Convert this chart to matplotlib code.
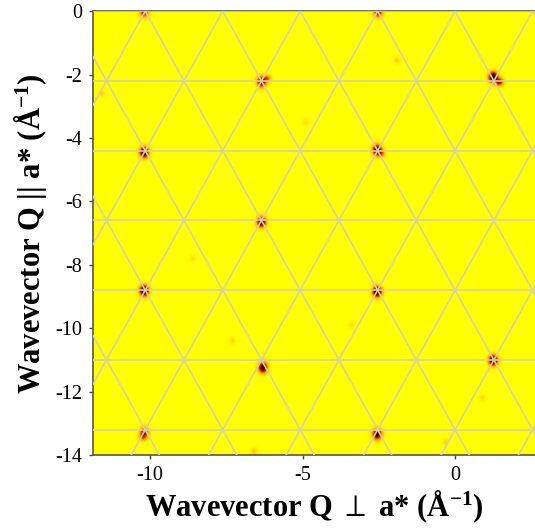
import matplotlib
matplotlib.use("Agg")
import matplotlib.pyplot as plt
import numpy as np
from matplotlib.colors import LinearSegmentedColormap

# Bragg peak positions (Å^-1) and strengths
PEAK_X = [-10.2, -2.52, -6.35, 1.26, -10.2, -2.55, -6.35, -10.2, -2.55, -6.3, 1.26, -10.2, -2.55]
PEAK_Y = [-0.02, -0.02, -2.22, -2.08, -4.45, -4.38, -6.65, -8.82, -8.85, -11.25, -11.02, -13.3, -13.35]
PEAK_AMP = [0.6, 0.65, 0.85, 1.1, 1.05, 1.0, 0.95, 1.15, 1.1, 0.95, 1.05, 0.6, 0.95]

# secondary orange lobes next to some peaks
LOBE_X = [-6.15, 1.45, -2.4, 1.5, -10.25]
LOBE_Y = [-2.12, -2.25, -4.5, -2.2, -13.45]
LOBE_AMP = [0.35, 0.4, 0.3, 0.3, 0.3]

# faint speckles in the background
FAINT_X = [-1.9, -7.3, -11.6, -4.9, -8.6, 0.9, -3.4, -0.3, -6.6]
FAINT_Y = [-1.55, -10.4, -2.6, -3.5, -7.8, -12.2, -9.9, -13.6, -13.9]
FAINT_AMP = [0.15, 0.12, 0.14, 0.1, 0.1, 0.12, 0.1, 0.12, 0.18]

# overlay lattice: equilateral triangles
ROW_STEP = 2.2
SIDE = 2.54
X_ORIGIN = -10.16

X_RANGE = (-11.87, 2.62)
Y_RANGE = (-14.0, 0.0)
X_TICKS = [-10, -5, 0]
Y_TICKS = [0, -2, -4, -6, -8, -10, -12, -14]


def build_map():
    xs = np.linspace(X_RANGE[0], X_RANGE[1], 600)
    ys = np.linspace(Y_RANGE[0], Y_RANGE[1], 600)
    gx, gy = np.meshgrid(xs, ys)
    z = np.zeros_like(gx)
    for px, py, a in zip(PEAK_X, PEAK_Y, PEAK_AMP):
        z += a * np.exp(-((gx - px) ** 2 / (2 * 0.1 ** 2) + (gy - py) ** 2 / (2 * 0.115 ** 2)))
    for px, py, a in zip(LOBE_X, LOBE_Y, LOBE_AMP):
        z += a * np.exp(-((gx - px) ** 2 + (gy - py) ** 2) / (2 * 0.08 ** 2))
    for px, py, a in zip(FAINT_X, FAINT_Y, FAINT_AMP):
        z += a * np.exp(-((gx - px) ** 2 + (gy - py) ** 2) / (2 * 0.07 ** 2))
    return np.clip(z, 0, 1)


plt.rcParams["axes.unicode_minus"] = False
plt.rcParams["mathtext.fontset"] = "custom"
plt.rcParams["mathtext.rm"] = "Liberation Serif:bold"
plt.rcParams["mathtext.it"] = "Liberation Serif:bold"
plt.rcParams["mathtext.bf"] = "Liberation Serif:bold"

cmap = LinearSegmentedColormap.from_list(
    "yb", ["#ffff00", "#ffa800", "#d82800", "#600000", "#000000"])

fig = plt.figure(figsize=(5.35, 5.31), dpi=100)
ax = fig.add_axes([0.174, 0.143, 0.826, 0.836])

ax.imshow(build_map(), cmap=cmap, vmin=0, vmax=1, origin="lower",
          extent=[X_RANGE[0], X_RANGE[1], Y_RANGE[0], Y_RANGE[1]],
          aspect="auto", interpolation="bilinear", zorder=1)

line_kw = dict(color="#d8d0a8", lw=1.2, zorder=3)
for k in range(0, 8):
    ax.axhline(-k * ROW_STEP, **line_kw)
slope = ROW_STEP / (SIDE / 2)
for n in range(-3, 12):
    ax.axline((X_ORIGIN + n * SIDE, 0), slope=slope, **line_kw)
    ax.axline((X_ORIGIN + n * SIDE, 0), slope=-slope, **line_kw)

ax.set_xlim(*X_RANGE)
ax.set_ylim(*Y_RANGE)
ax.set_xticks(X_TICKS)
ax.set_yticks(Y_TICKS)
ax.tick_params(labelsize=14.5, length=3, width=1, color="#444444", pad=5)
for lab in ax.get_xticklabels() + ax.get_yticklabels():
    lab.set_family("Liberation Serif")

for side in ["left", "bottom", "top"]:
    ax.spines[side].set_color("#555555")
    ax.spines[side].set_linewidth(1.2)
ax.spines["right"].set_visible(False)

ax.set_xlabel(r"Wavevector Q $\perp$ a* (Å$^{-1}$)", fontsize=22,
              family=["Liberation Serif", "DejaVu Serif"], weight="bold", labelpad=2)
ax.set_ylabel(r"Wavevector Q || a* (Å$^{-1}$)", fontsize=22,
              family=["Liberation Serif", "DejaVu Serif"], weight="bold", labelpad=4)

fig.savefig("out.png", dpi=100)
